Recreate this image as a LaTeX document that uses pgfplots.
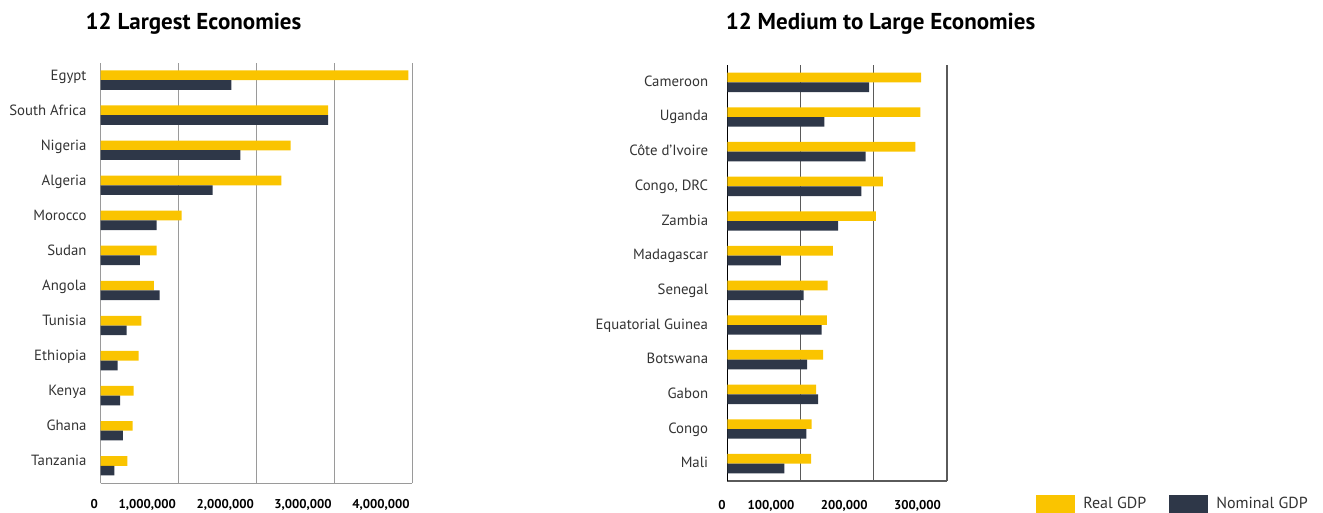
\documentclass[border=0pt]{standalone}
\usepackage{pgfplots}
\pgfplotsset{compat=1.18}
\usepackage{pgfplotstable}
\usepackage{fontspec}
\setmainfont{PT Sans}
\definecolor{realc}{HTML}{FAC400}
\definecolor{nomc}{HTML}{2E3748}
\definecolor{labc}{HTML}{333333}
\definecolor{gridl}{HTML}{9A9A9A}
\definecolor{gridr}{HTML}{5A5A5A}

\pgfplotstableread{
pos real nom
11 3949000 1676000
10 2918000 2918000
9 2439000 1792000
8 2318000 1438000
7 1040000 719000
6 719000 504000
5 684000 757000
4 521000 334000
3 488000 218000
2 424000 248000
1 411000 286000
0 341000 175000
}\largetab

\pgfplotstableread{
pos real nom
11 264600 193600
10 263700 132500
9 256800 189000
8 212300 183000
7 202700 151200
6 144000 73000
5 137100 104300
4 135800 128900
3 130700 108900
2 121200 123900
1 115300 107900
0 114300 77900
}\medtab

\pgfplotsset{
  common/.style={
    scale only axis,
    xbar, bar width=9.7pt, bar shift=0pt,
    ymin=-0.5, ymax=11.5,
    axis x line*=bottom, axis y line*=left,
    axis line style={-},
    major tick length=0pt,
    ytick={0,...,11},
    xmajorgrids, ymajorgrids=false,
    scaled x ticks=false,
    xticklabel style={font=\bfseries\fontsize{12.8}{13}\selectfont, text=black, anchor=north east, inner sep=0pt},
    yticklabel style={font=\fontsize{14.8}{16}\selectfont, text=labc, anchor=base east, inner sep=0pt},
    /pgf/number format/.cd, fixed, 1000 sep={,}, assume math mode=true,
  },
}

\begin{document}
\begin{tikzpicture}
\path[use as bounding box] (0pt,0pt) rectangle (1323pt,-513pt);

\node[font=\bfseries\fontsize{23}{25}\selectfont, anchor=base] at (193.5pt,-30pt) {12 Largest Economies};
\node[font=\bfseries\fontsize{23}{25}\selectfont, anchor=base] at (880.5pt,-30pt) {12 Medium to Large Economies};

\begin{axis}[common,
  at={(100.7pt,-483.3pt)}, anchor=south west,
  width=311.6pt, height=420.7pt,
  xmin=0, xmax=4000000,
  xtick={0,1000000,2000000,3000000,4000000},
  grid style={gridl, line width=1.4pt},
  x axis line style={gridl, line width=1.4pt},
  y axis line style={gridl, line width=1.4pt},
  xticklabel style={xshift=-2.5pt, yshift=-16pt},
  yticklabel style={xshift=-14pt},
  yticklabels={Tanzania,Ghana,Kenya,Ethiopia,Tunisia,Angola,Sudan,Morocco,Algeria,Nigeria,South Africa,Egypt},
]
\addplot[fill=realc, draw=none] table[x=real, y expr=\thisrow{pos}+0.138] {\largetab};
\addplot[fill=nomc, draw=none] table[x=nom, y expr=\thisrow{pos}-0.138] {\largetab};
\end{axis}

\begin{axis}[common,
  at={(727.3pt,-481pt)}, anchor=south west,
  width=219.7pt, height=416pt,
  xmin=0, xmax=300000,
  xtick={100000,200000,300000},
  extra x ticks={0},
  extra x tick style={grid=none, xticklabel style={xshift=4.5pt}},
  grid style={gridr, line width=1.4pt},
  x axis line style={gridr, line width=1.4pt},
  y axis line style={black, line width=1.2pt},
  xticklabel style={xshift=-6pt, yshift=-19pt},
  yticklabel style={xshift=-19pt, yshift=-4pt},
  yticklabels={Mali,Congo,Gabon,Botswana,Equatorial Guinea,Senegal,Madagascar,Zambia,{Congo, DRC},Côte d'Ivoire,Uganda,Cameroon},
  legend columns=2,
  legend style={at={(1.4065,-0.0548)}, anchor=west, draw=none, fill=none, inner sep=0pt, outer sep=0pt,
    font=\fontsize{16}{17}\selectfont, text=labc,
    nodes={inner sep=0pt},
    /tikz/every odd column/.append style={column sep=8pt},
    /tikz/every even column/.append style={column sep=23pt}},
]
\addplot[fill=realc, draw=none, legend image code/.code={\fill[realc] (0pt,-8.8pt) rectangle (39pt,8.8pt);}] table[x=real, y expr=\thisrow{pos}+0.141] {\medtab};
\addlegendentry{Real GDP}
\addplot[fill=nomc, draw=none, legend image code/.code={\fill[nomc] (0pt,-8.8pt) rectangle (39pt,8.8pt);}] table[x=nom, y expr=\thisrow{pos}-0.141] {\medtab};
\addlegendentry{Nominal GDP}
\end{axis}
\end{tikzpicture}
\end{document}
